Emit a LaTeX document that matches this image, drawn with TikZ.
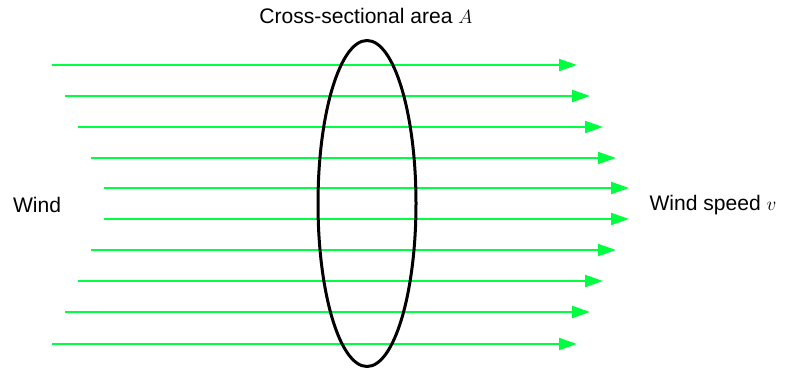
\documentclass[tikz,border=0pt]{standalone}
\usepackage{fontspec}
\setmainfont{Liberation Sans}
\usetikzlibrary{arrows.meta}
\definecolor{windgreen}{RGB}{0,255,64}
\tikzset{
  flow/.style={draw=windgreen, line width=1.5pt, -{Triangle[length=13.5pt, width=9pt]}},
  lbl/.style={font=\fontsize{15.8}{18}\selectfont, inner sep=0pt}
}
\begin{document}
\begin{tikzpicture}[x=0.75pt, y=-0.75pt]
\useasboundingbox (0,0) rectangle (789,371);
% wind lines
\foreach \i/\y/\xa/\xb in {1/65/52/577, 2/96/65/590, 3/127/78/603, 4/158/91/616, 5/188/104/629,
                           6/219/104/629, 7/250/91/616, 8/281/78/603, 9/312/65/590, 10/344/52/577} {
  \coordinate (s\i) at (\xa,\y);
  \coordinate (e\i) at (\xb,\y);
  \draw[flow] (s\i) -- (e\i);
}
% cross section
\draw[line width=2.25pt] (367,203.5) ellipse [x radius=49, y radius=163];
% labels
\node[lbl] (area) at (366,16) {Cross-sectional area $A$};
\node[lbl] (wind) at (37,205) {Wind};
\node[lbl] (speed) at (713,205) {Wind speed $v$};
\end{tikzpicture}
\end{document}
